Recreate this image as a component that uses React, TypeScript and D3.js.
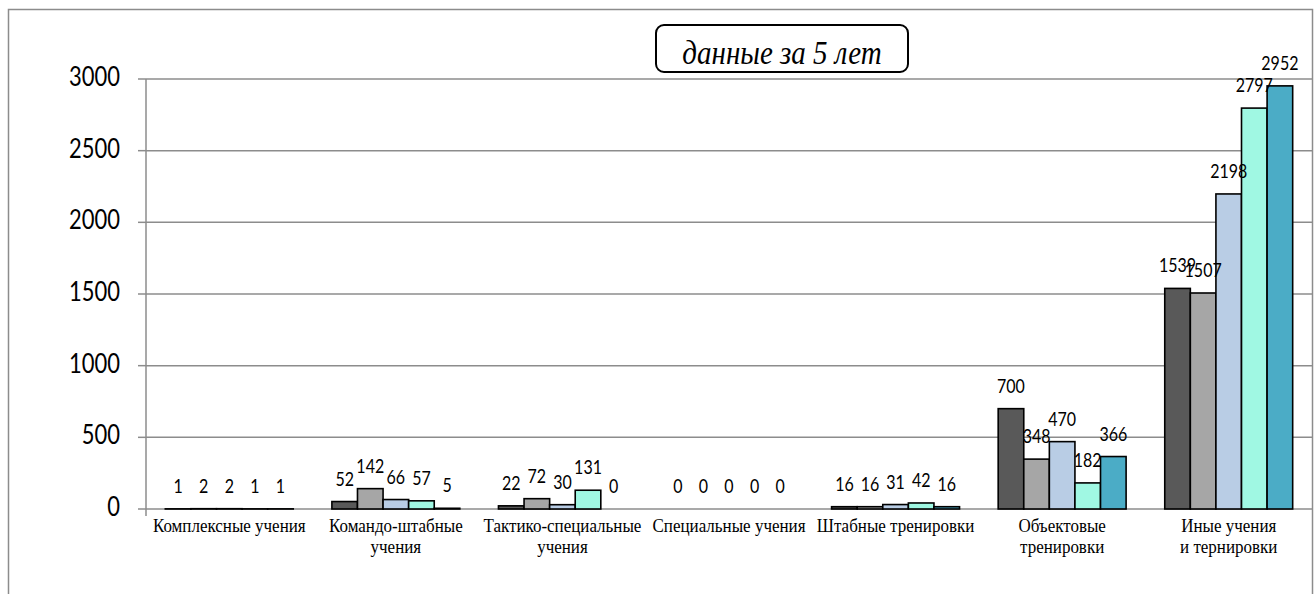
import React from "react";
import * as d3 from "d3";

const categories: string[][] = [
  ["Комплексные учения"],
  ["Командо-штабные", "учения"],
  ["Тактико-специальные", "учения"],
  ["Специальные учения"],
  ["Штабные тренировки"],
  ["Объектовые", "тренировки"],
  ["Иные учения", "и тернировки"],
];
const series1 = [1, 52, 22, 0, 16, 700, 1539];
const series2 = [2, 142, 72, 0, 16, 348, 1507];
const series3 = [2, 66, 30, 0, 31, 470, 2198];
const series4 = [1, 57, 131, 0, 42, 182, 2797];
const series5 = [1, 5, 0, 0, 16, 366, 2952];
const seriesList = [series1, series2, series3, series4, series5];
const seriesColors = ["#595959", "#a6a6a6", "#b9cde5", "#a0f8e3", "#4bacc6"];
const yTicks = [0, 500, 1000, 1500, 2000, 2500, 3000];
const title = "данные за 5 лет";

const W = 1314;
const H = 594;

const T = ({ x, y, sy = 1.2, children, ...rest }: any) => (
  <text transform={`translate(${x},${y}) scale(1,${sy})`} {...rest}>
    {children}
  </text>
);

export default function App() {
  const left = 146;
  const right = 1312;
  const x0 = d3
    .scaleBand<number>()
    .domain(d3.range(categories.length))
    .range([left, right])
    .paddingInner(0.232)
    .paddingOuter(0.116);
  const x1 = d3
    .scaleBand<number>()
    .domain(d3.range(seriesList.length))
    .range([0, x0.bandwidth()]);
  const y = d3.scaleLinear().domain([0, 3000]).range([509, 79]);
  const step = x0.step();
  const gridColor = "#8c8c8c";
  const numFont = "Lato, 'Open Sans', sans-serif";
  const serif = "'Liberation Serif', 'Times New Roman', serif";

  return (
    <svg
      width={W}
      height={H}
      style={{ position: "absolute", left: 0, top: 0, background: "#fff" }}
    >
      {/* outer frame */}
      <rect x={8.5} y={9.5} width={1304} height={620} fill="none" stroke="#8c8c8c" strokeWidth={1.5} />

      {/* gridlines and ticks */}
      {yTicks.map((t) => (
        <g key={t}>
          <line x1={left} x2={1313} y1={y(t)} y2={y(t)} stroke={gridColor} strokeWidth={1.5} />
          <line x1={138} x2={left} y1={y(t)} y2={y(t)} stroke={gridColor} strokeWidth={1.5} />
          <T
            x={120}
            y={y(t) + 7}
            sy={1.2}
            textAnchor="end"
            fontFamily={numFont}
            fontSize={22}
            fill="#000"
          >
            {t}
          </T>
        </g>
      ))}
      <line x1={left} x2={left} y1={y(3000)} y2={516} stroke={gridColor} strokeWidth={1.5} />

      {/* bars */}
      {seriesList.map((s, si) =>
        s.map((v, ci) => {
          const bx = (x0(ci) as number) + (x1(si) as number);
          const by = y(v);
          return (
            <rect
              key={`${si}-${ci}`}
              x={bx}
              y={by}
              width={x1.bandwidth()}
              height={y(0) - by}
              fill={seriesColors[si]}
              stroke="#000"
              strokeWidth={1.6}
            />
          );
        })
      )}

      {/* data labels */}
      {seriesList.map((s, si) =>
        s.map((v, ci) => {
          const cx = (x0(ci) as number) + (x1(si) as number) + x1.bandwidth() / 2;
          return (
            <T
              key={`l-${si}-${ci}`}
              x={cx}
              y={y(v) - 16}
              sy={1.2}
              textAnchor="middle"
              fontFamily={numFont}
              fontSize={16}
              fill="#000"
            >
              {v}
            </T>
          );
        })
      )}

      {/* category labels */}
      {categories.map((lines, ci) => {
        const cx = left + step * (ci + 0.5);
        return (
          <g key={`c-${ci}`}>
            {lines.map((ln, li) => (
              <T
                key={li}
                x={cx}
                y={532 + li * 21}
                sy={1.1}
                textAnchor="middle"
                fontFamily={serif}
                fontSize={17}
                fill="#000"
              >
                {ln}
              </T>
            ))}
          </g>
        );
      })}

      {/* title box */}
      <rect x={656} y={25} width={252} height={47} rx={8} ry={8} fill="#fff" stroke="#000" strokeWidth={2} />
      <T
        x={782}
        y={64}
        sy={1.15}
        textAnchor="middle"
        fontFamily={serif}
        fontStyle="italic"
        fontSize={29}
        fill="#000"
      >
        {title}
      </T>
    </svg>
  );
}
